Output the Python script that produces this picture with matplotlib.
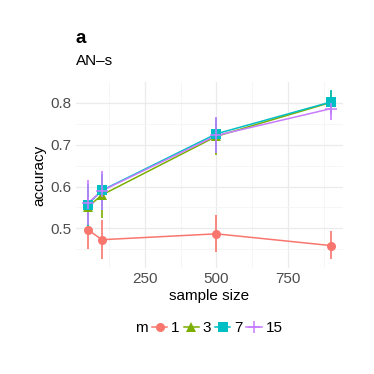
import matplotlib
matplotlib.use("Agg")
import matplotlib.pyplot as plt
from matplotlib.lines import Line2D
import numpy as np

plt.rcParams["font.family"] = ["Liberation Sans", "DejaVu Sans"]

sample_size = [50, 100, 500, 900]
m_levels = ["1", "3", "7", "15"]
acc = {
    "1": [0.497, 0.473, 0.487, 0.459],
    "3": [0.551, 0.580, 0.720, 0.801],
    "7": [0.557, 0.591, 0.726, 0.802],
    "15": [0.560, 0.590, 0.722, 0.786],
}
lo = {
    "1": [0.451, 0.427, 0.443, 0.426],
    "3": [0.505, 0.525, 0.676, 0.775],
    "7": [0.506, 0.545, 0.682, 0.775],
    "15": [0.508, 0.545, 0.679, 0.759],
}
hi = {
    "1": [0.541, 0.519, 0.531, 0.493],
    "3": [0.600, 0.625, 0.760, 0.828],
    "7": [0.605, 0.630, 0.764, 0.830],
    "15": [0.616, 0.638, 0.766, 0.812],
}
colors = {"1": "#F8766D", "3": "#7CAE00", "7": "#00BFC4", "15": "#C77CFF"}
markers = {"1": "o", "3": "^", "7": "s", "15": "+"}
msizes = {"1": 6.5, "3": 7, "7": 6.5, "15": 9}

fig = plt.figure(figsize=(3.74, 3.74), dpi=100)
ax = fig.add_axes([0.202, 0.283, 0.715, 0.498])

for m in m_levels:
    c = colors[m]
    ax.plot(sample_size, acc[m], color=c, lw=1.1, zorder=3)
    ax.vlines(sample_size, lo[m], hi[m], color=c, lw=1.2, zorder=3)
    mk = markers[m]
    if mk == "+":
        ax.plot(sample_size, acc[m], ls="none", marker=mk, ms=msizes[m],
                mew=1.1, color=c, zorder=4)
    else:
        ax.plot(sample_size, acc[m], ls="none", marker=mk, ms=msizes[m],
                mew=0, color=c, zorder=4)

ax.set_xlim(7.5, 942.5)
ax.set_ylim(0.405, 0.85)
ax.set_xticks([250, 500, 750])
ax.set_xticks([125, 375, 625, 875], minor=True)
ax.set_yticks([0.5, 0.6, 0.7, 0.8])
ax.set_yticklabels(["0.5", "0.6", "0.7", "0.8"])
ax.set_yticks([0.45, 0.55, 0.65, 0.75], minor=True)
ax.grid(which="major", color="#EBEBEB", lw=0.9)
ax.grid(which="minor", color="#F5F5F5", lw=0.6)
ax.set_axisbelow(True)
for s in ax.spines.values():
    s.set_visible(False)
ax.tick_params(which="both", length=0, labelsize=11, labelcolor="#4D4D4D", pad=3)
ax.set_xlabel("sample size", fontsize=11, labelpad=2)
ax.set_ylabel("accuracy", fontsize=11, labelpad=3)

fig.text(0.203, 0.898, "a", fontsize=13.5, fontweight="bold", ha="left", va="center")
fig.text(0.203, 0.836, "AN–s", fontsize=11, ha="left", va="center")

handles = []
for m in m_levels:
    c = colors[m]
    if markers[m] == "+":
        h = Line2D([], [], color=c, lw=1.1, marker="+", ms=msizes[m], mew=1.1)
    else:
        h = Line2D([], [], color=c, lw=1.1, marker=markers[m], ms=msizes[m], mew=0)
    handles.append(h)
fig.text(0.361, 0.123, "m", fontsize=11, ha="left", va="center")
fig.legend(handles, m_levels, loc="center left", bbox_to_anchor=(0.407, 0.123),
           ncol=4, frameon=False, fontsize=11, handlelength=1.0, handletextpad=0.25,
           columnspacing=0.25, borderaxespad=0, borderpad=0)

fig.savefig("out.png", dpi=100)
